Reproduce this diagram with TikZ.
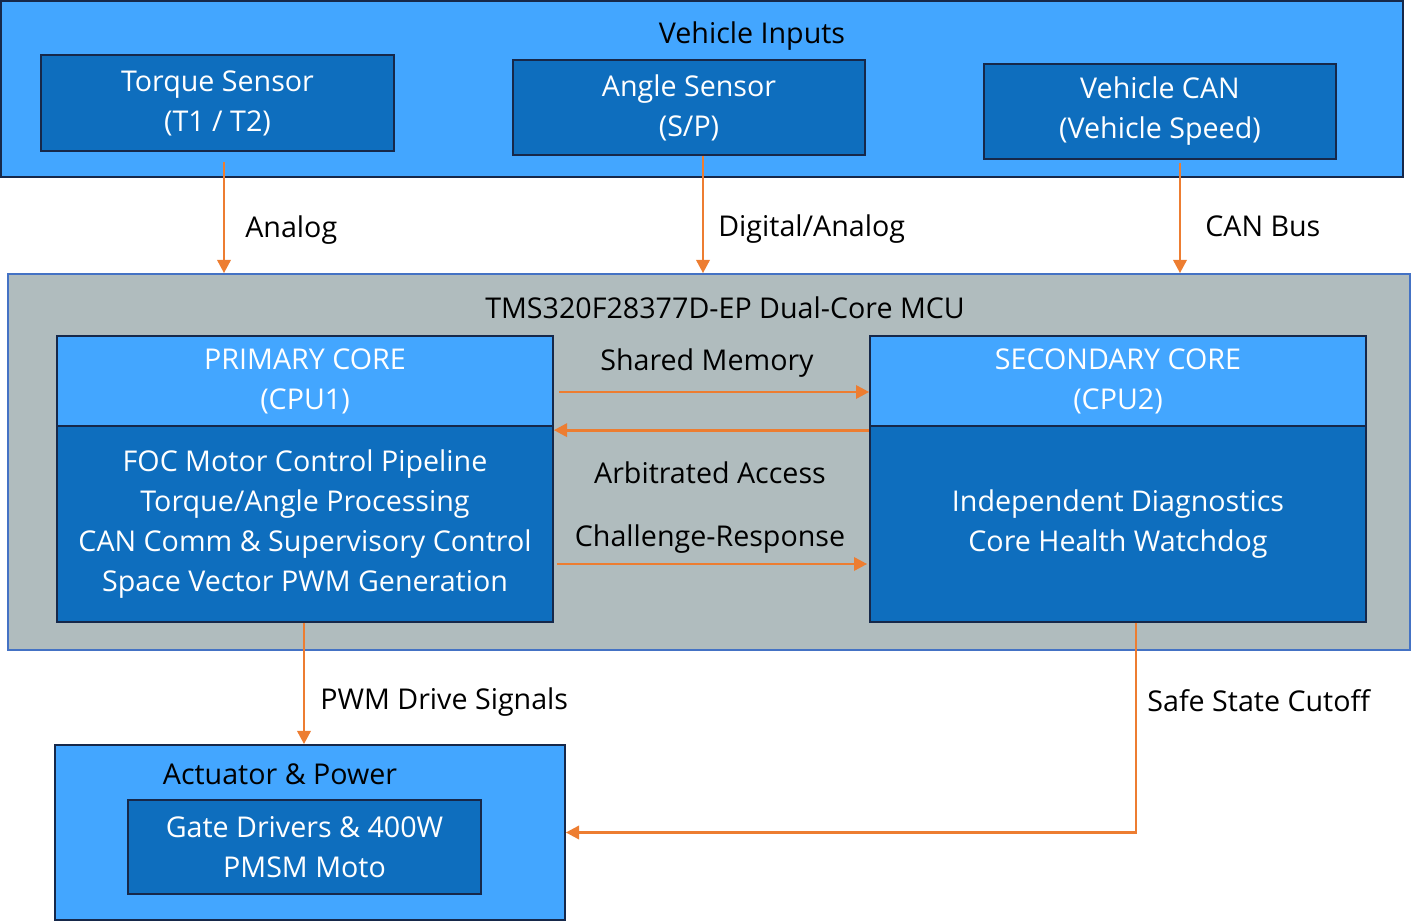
\documentclass[tikz,border=0pt]{standalone}
\usepackage{fontspec}
\setmainfont{Open Sans}
\usepackage{tikz}
\usetikzlibrary{positioning,arrows.meta,calc}
\definecolor{inbox}{RGB}{67,166,255}
\definecolor{corebox}{RGB}{14,110,190}
\definecolor{mcugray}{RGB}{176,188,190}
\definecolor{navy}{RGB}{22,40,74}
\definecolor{mcuedge}{RGB}{68,114,196}
\definecolor{sigorange}{RGB}{237,125,49}

\begin{document}
\begin{tikzpicture}[x=0.02cm,y=-0.02cm,font=\fontsize{16.3}{22.8}\selectfont,
  outer/.style={draw=navy,line width=1pt,fill=inbox,inner sep=0pt},
  inner/.style={draw=navy,line width=1pt,fill=corebox,text=white,align=center,inner sep=0pt,
    execute at begin node=\rule{0pt}{18.5pt}},
  sig/.style={draw=sigorange,line width=1.6pt,-{Triangle[length=7.5pt,width=7.5pt]}},
  lbl/.style={anchor=west,inner sep=0pt}]
\useasboundingbox (0,0) rectangle (1411,922);
% Vehicle inputs
\node[outer,minimum width=28.04cm,minimum height=3.52cm] (inputs) at (702,89) {};
\node (inputstitle) at (752,36) {Vehicle Inputs};
\node[inner,minimum width=7.06cm,minimum height=1.92cm] (torque) at (217.5,103) {Torque Sensor\\(T1 / T2)};
\node[inner,minimum width=7.04cm,minimum height=1.9cm] (angle) at (689,107.5) {Angle Sensor\\(S/P)};
\node[inner,minimum width=7.04cm,minimum height=1.9cm] (can) at (1160,111.5) {Vehicle CAN\\(Vehicle Speed)};
% MCU
\node[draw=mcuedge,line width=1pt,fill=mcugray,minimum width=28.04cm,minimum height=7.52cm,inner sep=0pt] (mcu) at (709,462) {};
\node (mcutitle) at (725,308) {TMS320F28377D-EP Dual-Core MCU};
\node[inner,fill=inbox,minimum width=9.92cm,minimum height=1.8cm] (prihead) at (305,381) {PRIMARY CORE\\(CPU1)};
\node[inner,minimum width=9.92cm,minimum height=3.92cm] (pribody) at (305,524) {FOC Motor Control Pipeline\\Torque/Angle Processing\\CAN Comm \& Supervisory Control\\Space Vector PWM Generation};
\node[inner,fill=inbox,minimum width=9.92cm,minimum height=1.8cm] (sechead) at (1118,381) {SECONDARY CORE\\(CPU2)};
\node[inner,minimum width=9.92cm,minimum height=3.92cm] (secbody) at (1118,524) {Independent Diagnostics\\Core Health Watchdog};
% Actuator
\node[outer,minimum width=10.2cm,minimum height=3.5cm] (act) at (310,832.5) {};
\node (acttitle) at (280,774) {Actuator \& Power};
\node[inner,minimum width=7.06cm,minimum height=1.88cm] (gate) at (304.5,847) {Gate Drivers \& 400W\\PMSM Moto};
% Input signals
\draw[sig,shorten <=6pt] ([xshift=0.13cm]torque.south) -- ([xshift=0.13cm]torque.south |- mcu.north);
\draw[sig] ([xshift=0.28cm]angle.south) -- ([xshift=0.28cm]angle.south |- mcu.north);
\draw[sig,shorten <=2pt] ([xshift=0.4cm]can.south) -- ([xshift=0.4cm]can.south |- mcu.north);
\node[lbl] (analog) at (245,230) {Analog};
\node[lbl] (digital) at (718,229) {Digital/Analog};
\node[lbl] (canbus) at (1205,226) {CAN Bus};
% Inter-core
\node (shared) at (707,363) {Shared Memory};
\draw[sig] ([yshift=-0.22cm,xshift=0.1cm]prihead.east) -- ([yshift=-0.22cm]sechead.west);
\draw[sig] ([yshift=-0.1cm]secbody.north west) -- ([yshift=-0.1cm]secbody.north west -| pribody.east);
\node (arbit) at (710,473) {Arbitrated Access};
\node (challenge) at (710,539) {Challenge-Response};
\draw[sig] ([yshift=-0.8cm,xshift=0.06cm]pribody.east) -- ([yshift=-0.8cm,xshift=-0.04cm]secbody.west);
% Outputs
\draw[sig] ([xshift=-0.02cm]pribody.south) -- ([xshift=-0.02cm]pribody.south |- act.north);
\node[lbl] (pwm) at (320,702) {PWM Drive Signals};
\draw[sig] ([xshift=0.36cm]secbody.south) |- (act.east);
\node[lbl] (safe) at (1147,701) {Safe State Cutoff};
\end{tikzpicture}
\end{document}
